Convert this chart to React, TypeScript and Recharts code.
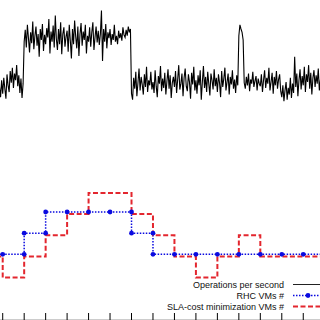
import { LineChart, Line, XAxis, YAxis } from "recharts";

// shared time axis (one tick per control interval)
const TICKS = [0, 1, 2, 3, 4, 5, 6, 7, 8, 9, 10, 11, 12, 13, 14];
const X_DOMAIN: [number, number] = [-0.126, 14.78];

// operations per second, sampled every 0.05 interval starting at t = -0.15
const OPS_START = -0.15;
const OPS_STEP = 0.05;
const OPS = [
  88, 64, 104,
  72, 110, 84, 60, 118, 92, 76, 126, 98, 134, 86, 120, 104, 140, 90, 116, 74, 108, 62, 96,
  196, 224, 182, 236, 204, 170, 218, 192, 244, 178, 210, 232, 186, 214, 160, 226, 200, 238, 174, 212,
  190, 228, 206, 250, 168, 220, 196, 234, 182, 258, 202, 176, 226, 190, 242, 166, 214, 230, 184, 208,
  222, 172, 236, 198, 156, 226, 190, 246, 208, 180, 232, 162, 214, 240, 186, 220, 200, 236, 168, 210,
  196, 230, 184, 218, 242, 176, 206, 232, 194, 222, 188, 214, 270, 150, 226, 196, 238, 180, 218, 204,
  226, 188, 214, 200, 236, 196, 210, 190, 222, 204, 216, 198, 230, 212, 206, 224, 210, 232, 218, 226,
  72, 58, 110, 84, 124, 66, 98, 132, 80, 112, 94, 70, 118, 88, 136, 76, 104, 92, 124, 82,
  100, 74, 128, 90, 64, 114, 96, 138, 78, 108, 86, 122, 70, 102, 130, 84, 116, 62, 98, 112,
  88, 126, 74, 106, 140, 82, 96, 120, 66, 110, 132, 90, 78, 118, 100, 60, 122, 94, 136, 80,
  104, 72, 116, 92, 128, 58, 100, 138, 86, 112, 76, 124, 96, 68, 120, 104, 82, 130, 90, 110,
  76, 118, 98, 64, 126, 88, 108, 134, 80, 100, 120, 70, 112, 94, 128, 84, 106, 74, 116, 92,
  210, 236, 226, 218, 200, 98, 84, 112, 92, 120, 78, 106, 96, 124, 88, 102, 114, 80, 108, 96,
  90, 118, 76, 104, 128, 86, 110, 96, 134, 80, 100, 122, 72, 112, 92, 126, 84, 106, 118, 78,
  64, 92, 54, 80, 100, 58, 86, 70, 110, 62, 96, 74, 160, 88, 120, 66, 104, 130, 82, 114,
  92, 136, 76, 118, 100, 140, 84, 122, 70, 110, 128, 88, 116, 96, 132, 80, 106,
];

// RHC VMs # (points at both ends of every change)
const RHC_TIMES = [-1, 0, 1, 1, 2, 2, 3, 4, 5, 6, 6, 7, 7, 8, 9, 10, 11, 12, 13, 14, 15];
const RHC_VMS = [2, 2, 2, 3, 3, 4, 4, 4, 4, 4, 3, 3, 2, 2, 2, 2, 2, 2, 2, 2, 2];

// SLA-cost minimization VMs #, value held from each start time
const SLA_TIMES = [-1, 0, 1, 2, 3, 4, 5, 6, 7, 8, 9, 10, 11, 12, 13, 14, 15];
const SLA_VMS = [1.9, 0.9, 1.9, 2.9, 3.9, 4.9, 4.9, 3.9, 2.9, 1.9, 0.9, 1.9, 2.9, 1.9, 1.9, 1.9, 1.9];

const BLUE = "#0a0ae0";
const RED = "#e3262e";
const FONT = "'Liberation Sans', Arial, sans-serif";

const opsData = OPS.map((v, i) => ({ t: OPS_START + i * OPS_STEP, ops: v }));
const rhcData = RHC_TIMES.map((t, i) => ({ t, vms: RHC_VMS[i] }));
const slaData = SLA_TIMES.map((t, i) => ({ t, vms: SLA_VMS[i] }));

const noLabel = () => "";

function LegendBox() {
  const rows = [
    { label: "Operations per second", y: 284.5, kind: "ops" },
    { label: "RHC VMs #", y: 295.5, kind: "rhc" },
    { label: "SLA-cost minimization VMs #", y: 306.5, kind: "sla" },
  ];
  return (
    <svg width={320} height={320} style={{ position: "absolute", left: 0, top: 0 }}>
      {rows.map((r) => (
        <g key={r.kind}>
          <text
            x={284}
            y={r.y + 3.2}
            textAnchor="end"
            fontFamily={FONT}
            fontSize={9}
            fill="#111"
          >
            {r.label}
          </text>
          {r.kind === "ops" && (
            <line x1={293} x2={330} y1={r.y} y2={r.y} stroke="#222" strokeWidth={1} />
          )}
          {r.kind === "rhc" && (
            <g>
              <line x1={293} x2={330} y1={r.y} y2={r.y} stroke={BLUE} strokeWidth={1.5} strokeDasharray="1.5 1.5" />
              <circle cx={308} cy={r.y} r={2.4} fill={BLUE} />
            </g>
          )}
          {r.kind === "sla" && (
            <line x1={293} x2={330} y1={r.y} y2={r.y} stroke={RED} strokeWidth={2} strokeDasharray="5 2.5" />
          )}
        </g>
      ))}
    </svg>
  );
}

export default function App() {
  return (
    <div
      style={{
        position: "fixed",
        left: 0,
        top: 0,
        width: 320,
        height: 320,
        background: "#fff",
        overflow: "hidden",
      }}
    >
      <div style={{ position: "absolute", left: 0, top: 0 }}>
        <LineChart width={320} height={124} data={opsData} margin={{ top: 0, right: 0, bottom: 0, left: 0 }}>
          {/* top border: zero-height axis, negative tick size turns the ticks inward */}
          <XAxis
            dataKey="t"
            type="number"
            domain={X_DOMAIN}
            allowDataOverflow
            orientation="top"
            height={0}
            ticks={TICKS}
            tickSize={-6}
            tickFormatter={noLabel}
            axisLine={{ stroke: "#aaa", strokeWidth: 2 }}
            tickLine={{ stroke: "#000" }}
          />
          <YAxis hide domain={[0, 295]} allowDataOverflow />
          <Line
            dataKey="ops"
            stroke="#000"
            strokeWidth={1.1}
            dot={false}
            isAnimationActive={false}
          />
        </LineChart>
      </div>

      <div style={{ position: "absolute", left: 0, top: 140 }}>
        <LineChart width={320} height={180} margin={{ top: 0, right: 0, bottom: 0, left: 0 }}>
          <XAxis
            dataKey="t"
            type="number"
            domain={X_DOMAIN}
            allowDataOverflow
            orientation="bottom"
            mirror
            ticks={TICKS}
            tickSize={7}
            tickFormatter={noLabel}
            axisLine={{ stroke: "#999" }}
            tickLine={{ stroke: "#000" }}
          />
          <YAxis hide domain={[-1.106, 7.404]} allowDataOverflow />
          <Line
            data={rhcData}
            dataKey="vms"
            type="linear"
            stroke={BLUE}
            strokeWidth={1.5}
            strokeDasharray="1.5 1.5"
            dot={{ r: 2.4, fill: BLUE, stroke: "none" }}
            isAnimationActive={false}
          />
          <Line
            data={slaData}
            dataKey="vms"
            type="stepAfter"
            stroke={RED}
            strokeWidth={2}
            strokeDasharray="5 2.5"
            dot={false}
            isAnimationActive={false}
          />
        </LineChart>
      </div>

      <LegendBox />
    </div>
  );
}
